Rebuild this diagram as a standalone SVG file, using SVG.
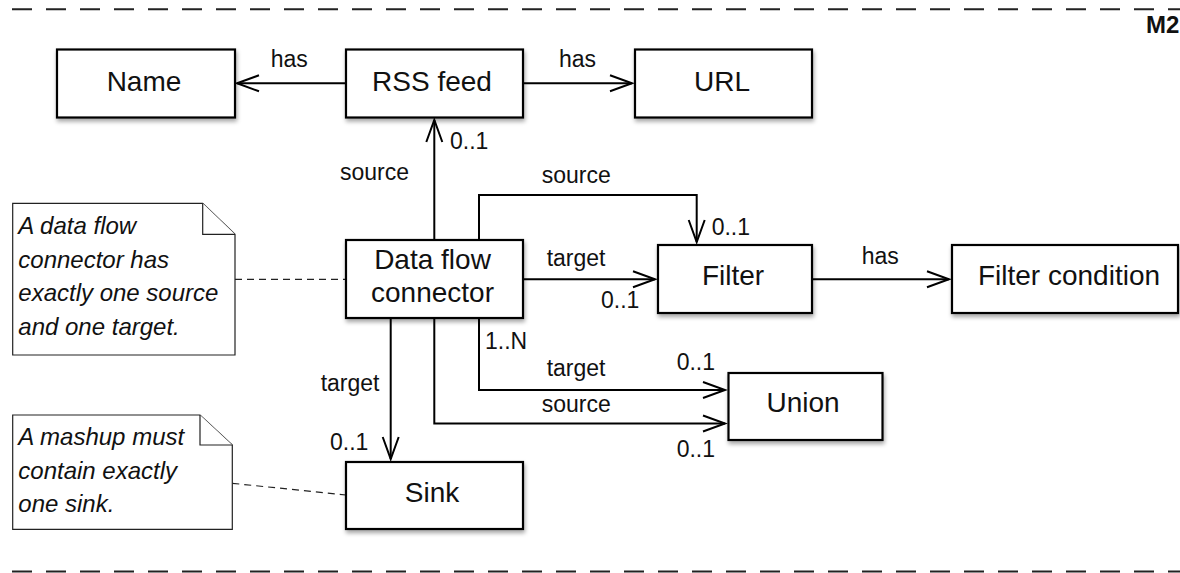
<svg xmlns="http://www.w3.org/2000/svg" width="1180" height="573" viewBox="0 0 1180 573">
<style>
.box{fill:#fff;stroke:#000;stroke-width:2.2;filter:url(#sh)}
.nt{font-family:"Liberation Sans",Arial,sans-serif;font-size:28px;fill:#111;text-anchor:middle}
.lb{font-family:"Liberation Sans",Arial,sans-serif;font-size:23px;fill:#111}
.note{fill:#fff;stroke:#222;stroke-width:1.2}
.ntx{font-family:"Liberation Sans",Arial,sans-serif;font-size:24px;font-style:italic;fill:#111}
.con{fill:none;stroke:#000;stroke-width:2}
.arr{marker-end:url(#ah)}
.link{fill:none;stroke:#222;stroke-width:1.2;stroke-dasharray:7 5}
.frame{fill:none;stroke:#222;stroke-width:2;stroke-dasharray:20 14}
</style>
<defs>
<filter id="sh" x="-10%" y="-20%" width="130%" height="150%">
<feDropShadow dx="1" dy="3" stdDeviation="2" flood-color="#000" flood-opacity="0.35"/>
</filter>
<marker id="ah" markerUnits="userSpaceOnUse" markerWidth="30" markerHeight="24" viewBox="-25 -12 30 24" refX="0" refY="0" orient="auto">
<path d="M-22,-8 L0,0 L-22,8" fill="none" stroke="#000" stroke-width="2"/>
</marker>
</defs>
<rect width="1180" height="573" fill="#fff"/>
<g id="frame">
<path class="frame" d="M12,9.3 H1180"/>
<path class="frame" d="M12,571.5 H1180"/>
<text x="1146" y="33" font-family="Liberation Sans,Arial,sans-serif" font-size="24" font-weight="bold" fill="#111">M2</text>
</g>
<g id="connectors">
<path class="con arr" d="M346,83.3 H237"/>
<path class="con arr" d="M523,83.3 H632"/>
<path class="con arr" d="M434.3,240 V120"/>
<path class="con arr" d="M479,240 V195 H696.7 V242"/>
<path class="con arr" d="M523,279.3 H655"/>
<path class="con arr" d="M812,279.3 H949"/>
<path class="con arr" d="M479,318 V390 H725"/>
<path class="con arr" d="M434.3,318 V423.5 H725"/>
<path class="con arr" d="M390.7,318 V459"/>
<path class="link" d="M235,279.3 H346"/>
<path class="link" d="M232.3,483.3 L346,495"/>
<text class="lb" x="270.7" y="66.7">has</text>
<text class="lb" x="559" y="66.7">has</text>
<text class="lb" x="450" y="149">0..1</text>
<text class="lb" x="340" y="180">source</text>
<text class="lb" x="541.7" y="183">source</text>
<text class="lb" x="711.7" y="235">0..1</text>
<text class="lb" x="546.7" y="266">target</text>
<text class="lb" x="601" y="307.5">0..1</text>
<text class="lb" x="861.7" y="264">has</text>
<text class="lb" x="485" y="349">1..N</text>
<text class="lb" x="546.7" y="376">target</text>
<text class="lb" x="676.7" y="370">0..1</text>
<text class="lb" x="541.7" y="412">source</text>
<text class="lb" x="676.7" y="457">0..1</text>
<text class="lb" x="320.7" y="391">target</text>
<text class="lb" x="330" y="450">0..1</text>
</g>
<g id="name"><rect class="box" x="57" y="49.5" width="178" height="68"/><text class="nt" x="144" y="91">Name</text></g>
<g id="rss"><rect class="box" x="346" y="49.5" width="177" height="68"/><text class="nt" x="432" y="91">RSS feed</text></g>
<g id="url"><rect class="box" x="635" y="49.5" width="177" height="68"/><text class="nt" x="722" y="91">URL</text></g>
<g id="dfc"><rect class="box" x="346" y="240" width="177" height="78"/><text class="nt" x="432.5" y="268.5">Data flow</text><text class="nt" x="432.5" y="302">connector</text></g>
<g id="filter"><rect class="box" x="658" y="245" width="154" height="68"/><text class="nt" x="733" y="285">Filter</text></g>
<g id="filtercond"><rect class="box" x="952" y="245" width="226" height="68"/><text class="nt" x="1069" y="285">Filter condition</text></g>
<g id="union"><rect class="box" x="728.5" y="373" width="154" height="67"/><text class="nt" x="803" y="412">Union</text></g>
<g id="sink"><rect class="box" x="346" y="462" width="177" height="67"/><text class="nt" x="432" y="502">Sink</text></g>
<g id="note1">
<path class="note" d="M12.7,203.3 H202.7 L235,234.3 V355 H12.7 Z"/>
<path class="note" d="M202.7,203.3 V234.3 H235"/>
<text class="ntx" x="18.3" y="234">A data flow</text>
<text class="ntx" x="18.3" y="268">connector has</text>
<text class="ntx" x="18.3" y="301">exactly one source</text>
<text class="ntx" x="18.3" y="335">and one target.</text>
</g>
<g id="note2">
<path class="note" d="M12.7,415 H200 L232.3,445 V529.3 H12.7 Z"/>
<path class="note" d="M200,415 V445 H232.3"/>
<text class="ntx" x="18.3" y="445">A mashup must</text>
<text class="ntx" x="18.3" y="478.5">contain exactly</text>
<text class="ntx" x="18.3" y="512">one sink.</text>
</g>
</svg>
